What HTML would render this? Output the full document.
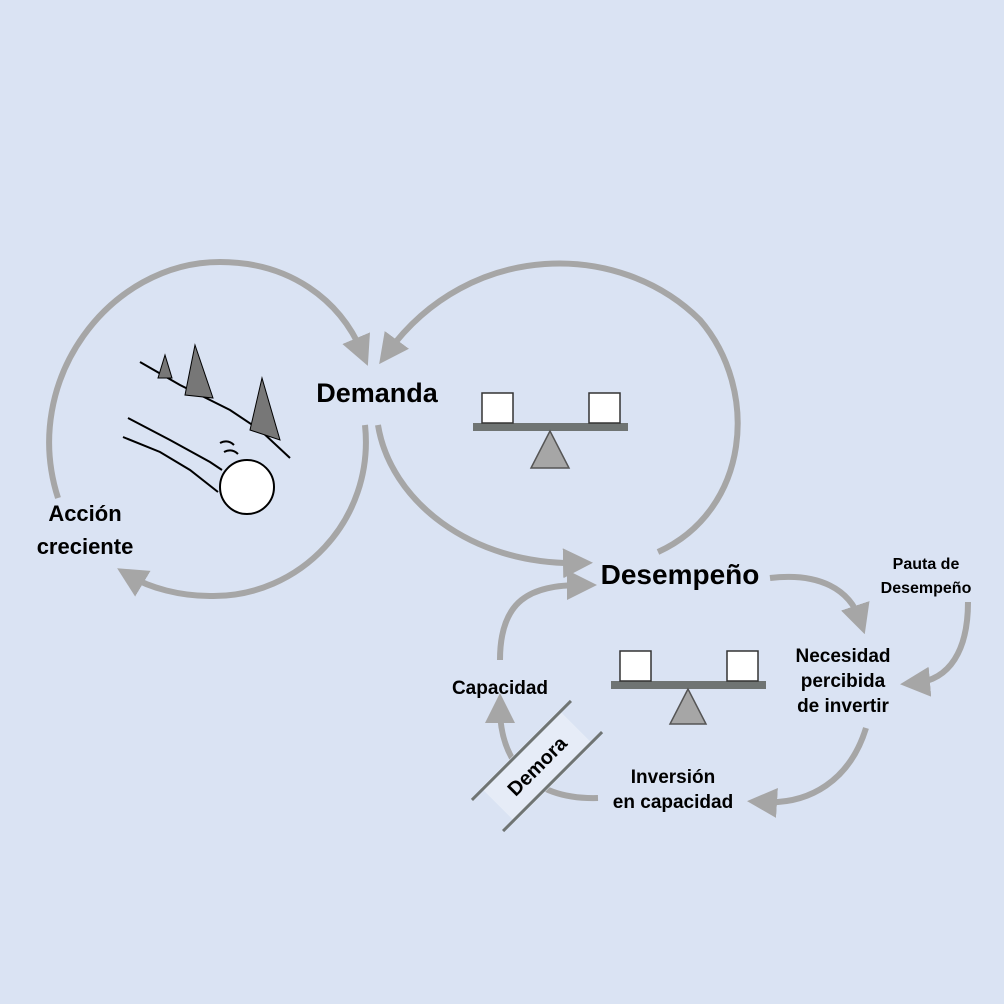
<!DOCTYPE html>
<html><head><meta charset="utf-8"><style>
html,body{margin:0;padding:0;background:#dae3f3;}
svg{display:block}
text{font-family:"Liberation Sans","DejaVu Sans",sans-serif;font-weight:bold;fill:#000}
</style></head><body>
<svg width="1004" height="1004" viewBox="0 0 1004 1004" xmlns="http://www.w3.org/2000/svg">
<defs>
<marker id="a" markerWidth="5" markerHeight="5" refX="2.5" refY="2.5" orient="auto" markerUnits="strokeWidth">
<path d="M0,0 L5,2.5 L0,5 Z" fill="#a6a6a6"/></marker>
</defs>
<rect width="1004" height="1004" fill="#dae3f3"/>
<g fill="none" stroke="#a6a6a6" stroke-width="6" marker-end="url(#a)">
<path d="M58,498 C20,380 110,262 220,262 C290,262 340,300 362,352"/>
<path d="M365,425 C375,520 300,598 210,596 C180,596 150,588 130,576"/>
<path d="M658,552 C750,510 760,390 700,320 C620,240 470,240 388,352"/>
<path d="M378,425 C390,500 470,565 578,563"/>
<path d="M770,578 C820,572 850,590 860,620"/>
<path d="M866,728 C850,780 810,805 762,802"/>
<path d="M598,798 C530,800 500,760 500,708"/>
<path d="M500,660 C500,600 530,585 582,585"/>
<path d="M968,602 C968,650 950,680 915,683"/>
</g>
<rect x="473" y="423" width="155" height="8" fill="#6f7473"/>
<rect x="482" y="393" width="31" height="30" fill="#fff" stroke="#333" stroke-width="1.5"/>
<rect x="589" y="393" width="31" height="30" fill="#fff" stroke="#333" stroke-width="1.5"/>
<polygon points="550,431 531,468 569,468" fill="#a6a6a6" stroke="#555" stroke-width="1.5"/>
<rect x="611" y="681" width="155" height="8" fill="#6f7473"/>
<rect x="620" y="651" width="31" height="30" fill="#fff" stroke="#333" stroke-width="1.5"/>
<rect x="727" y="651" width="31" height="30" fill="#fff" stroke="#333" stroke-width="1.5"/>
<polygon points="688,689 670,724 706,724" fill="#a6a6a6" stroke="#555" stroke-width="1.5"/>
<g transform="translate(537,766) rotate(-45)">
<rect x="-55" y="-24" width="110" height="48" fill="#e6ecf7"/>
<line x1="-70" y1="-22" x2="70" y2="-22" stroke="#6f7473" stroke-width="3"/>
<line x1="-70" y1="22" x2="70" y2="22" stroke="#6f7473" stroke-width="3"/>
<text x="0" y="7" font-size="20" text-anchor="middle">Demora</text>
</g>
<g stroke="#000" stroke-width="2" fill="none">
<path d="M140,362 L180,385 L230,410 L260,430 L290,458"/>
<path d="M128,418 L170,440 L210,462 L222,470"/>
<path d="M123,437 L160,452 L190,470 L218,492"/>
<path d="M220,443 q8,-4 14,2 M224,452 q8,-4 14,2"/>
</g>
<g fill="#777" stroke="#000" stroke-width="1">
<polygon points="165,355 158,378 172,378"/>
<polygon points="195,345 185,395 213,398"/>
<polygon points="262,378 250,430 280,440"/>
</g>
<circle cx="247" cy="487" r="27" fill="#fff" stroke="#000" stroke-width="2"/>
<text x="377" y="402" font-size="27" text-anchor="middle">Demanda</text>
<text x="680" y="584" font-size="28" text-anchor="middle">Desempeño</text>
<text x="85" y="521" font-size="22" text-anchor="middle">Acción</text>
<text x="85" y="554" font-size="22" text-anchor="middle">creciente</text>
<text x="500" y="694" font-size="19" text-anchor="middle">Capacidad</text>
<text x="843" y="662" font-size="19" text-anchor="middle">Necesidad</text>
<text x="843" y="687" font-size="19" text-anchor="middle">percibida</text>
<text x="843" y="712" font-size="19" text-anchor="middle">de invertir</text>
<text x="926" y="569" font-size="16" text-anchor="middle">Pauta de</text>
<text x="926" y="593" font-size="16" text-anchor="middle">Desempeño</text>
<text x="673" y="783" font-size="19" text-anchor="middle">Inversión</text>
<text x="673" y="808" font-size="19" text-anchor="middle">en capacidad</text>
</svg>
</body></html>
